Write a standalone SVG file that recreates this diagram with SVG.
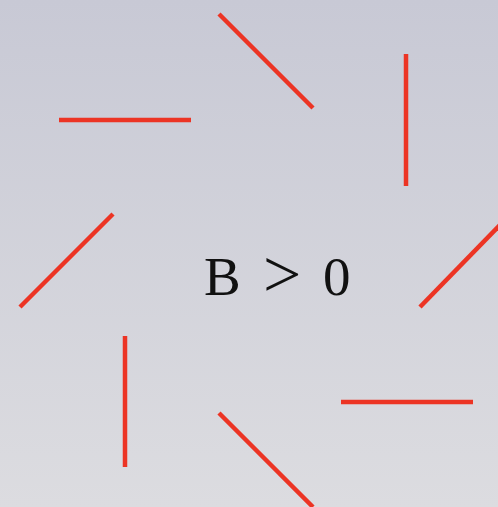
<svg xmlns="http://www.w3.org/2000/svg" width="498" height="507" viewBox="0 0 498 507">
<defs>
<linearGradient id="bg" x1="0" y1="0" x2="0" y2="1">
<stop offset="0" stop-color="#c8c9d5"/>
<stop offset="1" stop-color="#dcdce0"/>
</linearGradient>
<style>
.r{stroke:#ec3424;stroke-width:4.5;stroke-linecap:butt;fill:none}
.t{font-family:"Liberation Serif","DejaVu Serif",serif;font-size:55px;fill:#111}
</style>
</defs>
<rect width="498" height="507" fill="url(#bg)"/>
<g id="connectors">
<line class="r" x1="219" y1="14" x2="313" y2="108"/>
<line class="r" x1="59" y1="120" x2="191" y2="120"/>
<line class="r" x1="406" y1="54" x2="406" y2="186"/>
<line class="r" x1="113" y1="214" x2="20" y2="307"/>
<line class="r" x1="420" y1="307" x2="500" y2="225"/>
<line class="r" x1="125" y1="336" x2="125" y2="467"/>
<line class="r" x1="341" y1="402" x2="473" y2="402"/>
<line class="r" x1="219" y1="413" x2="313" y2="507"/>
</g>
<g id="label">
<text class="t" y="295"><tspan x="204">B</tspan><tspan x="263" y="297" font-size="68">&gt;</tspan><tspan x="323" y="295">0</tspan></text>
</g>
</svg>
